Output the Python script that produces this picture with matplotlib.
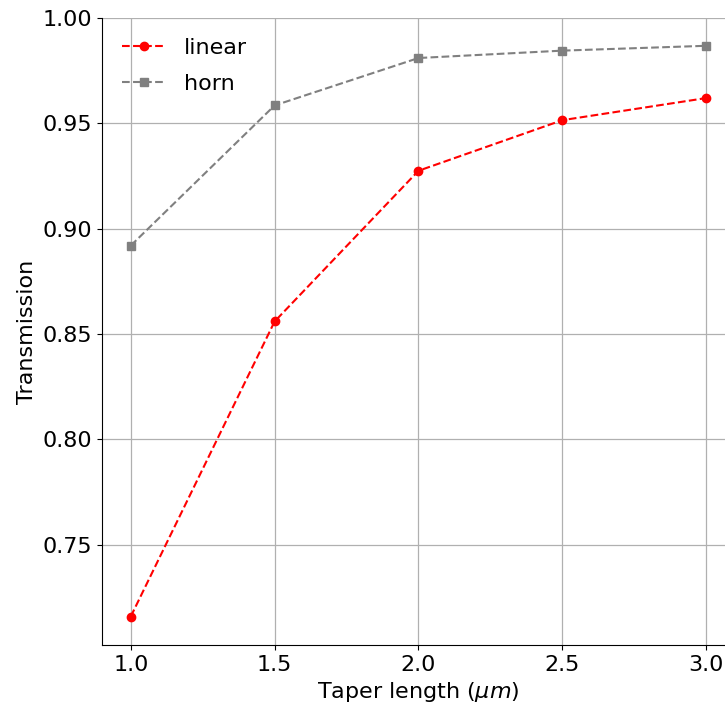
import matplotlib.pyplot as plt

# Data
taper_length = [1.0, 1.5, 2.0, 2.5, 3.0]
linear = [0.716, 0.856, 0.9275, 0.9515, 0.962]
horn = [0.892, 0.9585, 0.981, 0.9845, 0.9868]

fig = plt.figure(figsize=(7.25, 7.13), dpi=100)
ax = fig.add_axes([0.1407, 0.0954, 0.873, 0.8794])

ax.plot(taper_length, linear, 'o--', color='red', label='linear', markersize=6)
ax.plot(taper_length, horn, 's--', color='gray', label='horn', markersize=6)

ax.set_xlim(0.9, 3.1)
ax.set_ylim(0.7025, 1.0)
ax.set_xticks([1.0, 1.5, 2.0, 2.5, 3.0])
ax.set_yticks([0.75, 0.80, 0.85, 0.90, 0.95, 1.00])

ax.set_xlabel(r'Taper length ($\mu m$)', fontsize=16)
ax.set_ylabel('Transmission', fontsize=16)
ax.tick_params(labelsize=16)
ax.grid(True, color='#b0b0b0', linewidth=0.9)
ax.spines['top'].set_visible(False)
ax.spines['right'].set_visible(False)
ax.legend(fontsize=16, frameon=False, loc='upper left', labelspacing=0.7)

plt.savefig('out.png', dpi=100, facecolor='white')
